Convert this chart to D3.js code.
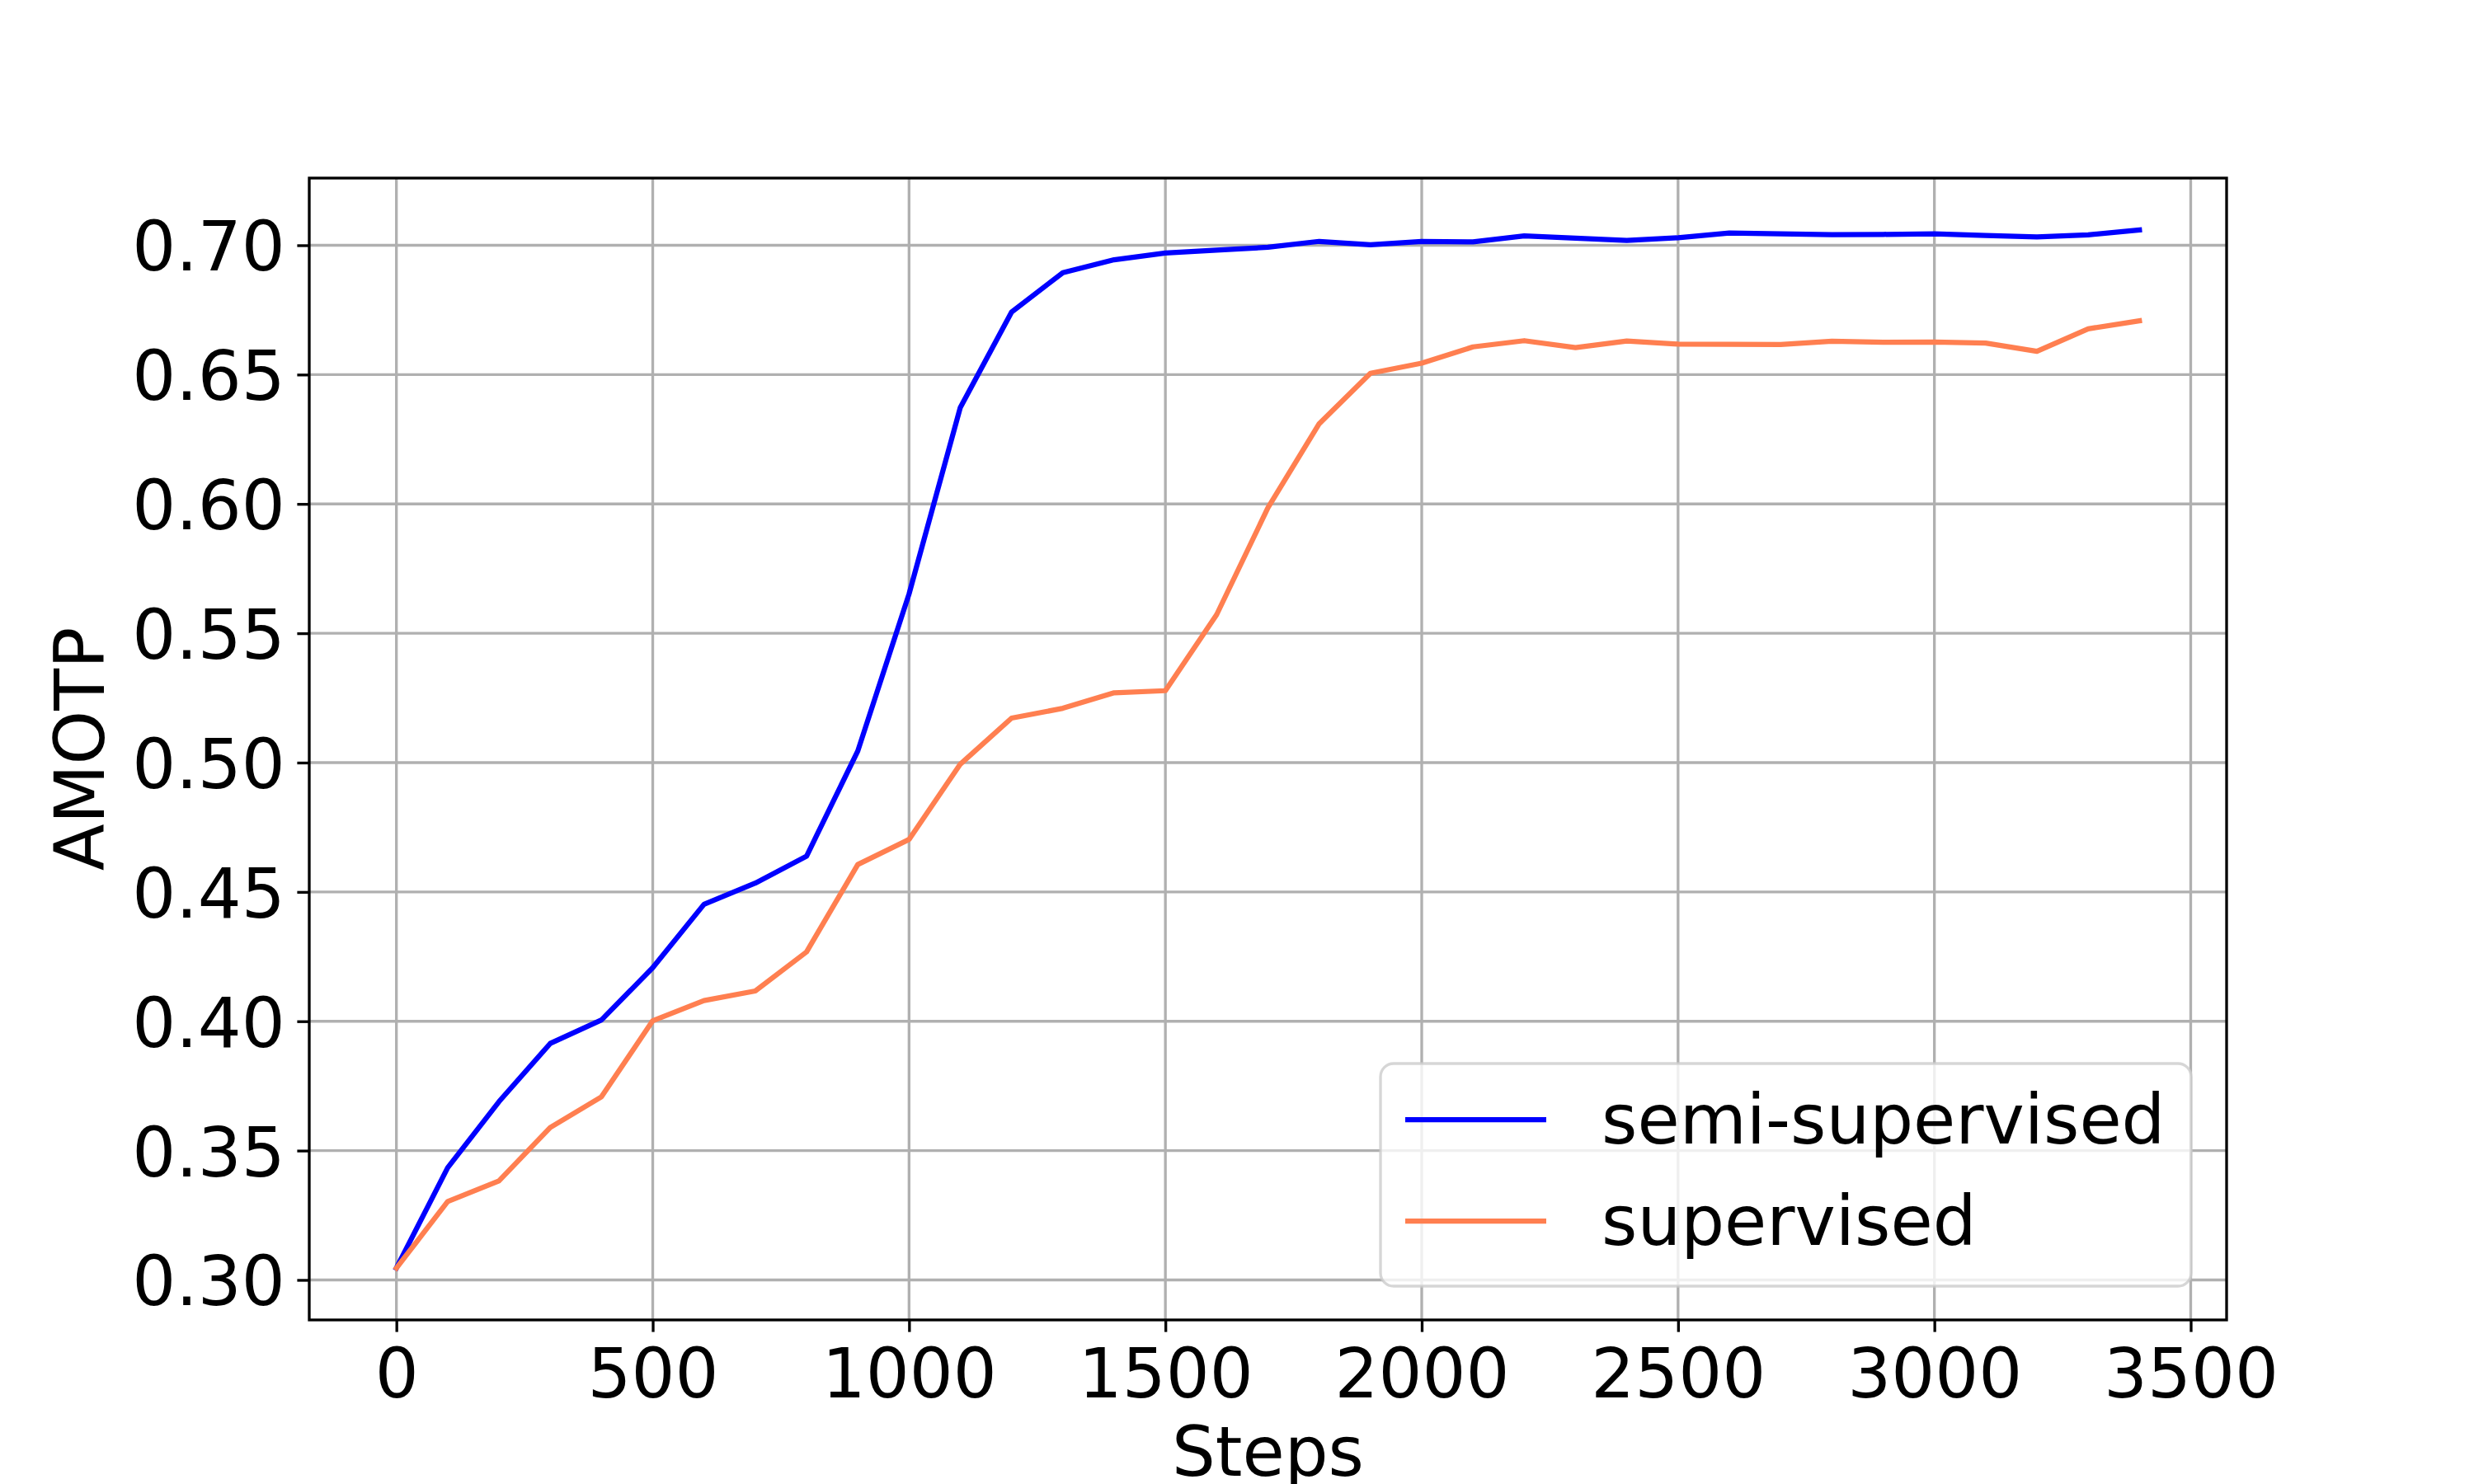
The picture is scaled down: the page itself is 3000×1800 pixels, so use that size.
<!DOCTYPE html>
<html>
<head>
<meta charset="utf-8">
<script src="https://cdn.jsdelivr.net/npm/d3@7"></script>
<style>
  html, body { margin: 0; padding: 0; background: #ffffff; }
  svg { display: block; font-family: "DejaVu Sans", sans-serif; }
</style>
</head>
<body>
<svg id="chart" width="3000" height="1800"></svg>
<script>
// ---- data ----
const steps = [0, 100, 200, 300, 400, 500, 600, 700, 800, 900, 1000, 1100, 1200, 1300, 1400, 1500, 1600,
  1700, 1800, 1900, 2000, 2100, 2200, 2300, 2400, 2500, 2600, 2700, 2800, 2900, 3000, 3100, 3200, 3300, 3400];
const semiSupervised = [0.3046, 0.3434, 0.3689, 0.3914, 0.4005, 0.4207, 0.4452, 0.4534, 0.4638, 0.5045,
  0.5652, 0.6373, 0.6742, 0.6894, 0.6944, 0.6970, 0.6981, 0.6992, 0.7015, 0.7002, 0.7015, 0.7013, 0.7036,
  0.7027, 0.7019, 0.7029, 0.7047, 0.7044, 0.7041, 0.7042, 0.7044, 0.7038, 0.7032, 0.7040, 0.7059];
const supervised = [0.3046, 0.3303, 0.3383, 0.3589, 0.3708, 0.4002, 0.4080, 0.4117, 0.4268, 0.4606,
  0.4703, 0.4994, 0.5172, 0.5210, 0.5270, 0.5278, 0.5572, 0.5985, 0.6310, 0.6505, 0.6544, 0.6607, 0.6631,
  0.6604, 0.6630, 0.6618, 0.6617, 0.6616, 0.6629, 0.6625, 0.6626, 0.6622, 0.6590, 0.6677, 0.6708];
const seriesNames = ["semi-supervised", "supervised"];
const xTicks = [0, 500, 1000, 1500, 2000, 2500, 3000, 3500];
const yTicks = [0.30, 0.35, 0.40, 0.45, 0.50, 0.55, 0.60, 0.65, 0.70];
const xLabel = "Steps";
const yLabel = "AMOTP";

(function () {
// ---- layout ----
const W = 3000, H = 1800;
const pL = 375, pR = 2700, pT = 216, pB = 1601;
const fontSize = 83.3;
const colors = ["#0000ff", "#ff7f50"];

const svg = d3.select("#chart");
svg.append("rect").attr("width", W).attr("height", H).attr("fill", "#ffffff");

const allVals = semiSupervised.concat(supervised);
const xMin = d3.min(steps), xMax = d3.max(steps);
const yMin = d3.min(allVals), yMax = d3.max(allVals);
const xm = (xMax - xMin) * 0.05, ym = (yMax - yMin) * 0.05;

const x = d3.scaleLinear().domain([xMin - xm, xMax + xm]).range([pL, pR]);
const y = d3.scaleLinear().domain([yMin - ym, yMax + ym]).range([pB, pT]);

// grid
const grid = svg.append("g");
grid.selectAll("line.gx").data(xTicks.filter(t => x(t) <= pR)).enter().append("line")
  .attr("x1", d => x(d)).attr("x2", d => x(d)).attr("y1", pT).attr("y2", pB)
  .attr("stroke", "#b0b0b0").attr("stroke-width", 3.33);
grid.selectAll("line.gy").data(yTicks).enter().append("line")
  .attr("x1", pL).attr("x2", pR).attr("y1", d => y(d)).attr("y2", d => y(d))
  .attr("stroke", "#b0b0b0").attr("stroke-width", 3.33);

// lines
const series = [semiSupervised, supervised];
const line = d3.line().x((d, i) => x(steps[i])).y(d => y(d));
series.forEach((s, k) => {
  svg.append("path").datum(s).attr("d", line)
    .attr("fill", "none").attr("stroke", colors[k]).attr("stroke-width", 6.25)
    .attr("stroke-linejoin", "round").attr("stroke-linecap", "square");
});

// axes
const xAxis = d3.axisBottom(x).tickValues(xTicks).tickFormat(d3.format("d"))
  .tickSize(14.6).tickPadding(14.6).tickSizeOuter(0);
const gx = svg.append("g").attr("transform", `translate(0,${pB})`).call(xAxis);
gx.select(".domain").remove();
gx.selectAll(".tick line").attr("stroke", "#000").attr("stroke-width", 3.33);
gx.selectAll(".tick text").attr("font-size", fontSize).attr("fill", "#000")
  .attr("font-family", "DejaVu Sans").attr("dy", null).attr("y", 94);

const yAxis = d3.axisLeft(y).tickValues(yTicks).tickFormat(d3.format(".2f"))
  .tickSize(14.6).tickPadding(14.6).tickSizeOuter(0);
const gy = svg.append("g").attr("transform", `translate(${pL},0)`).call(yAxis);
gy.select(".domain").remove();
gy.selectAll(".tick line").attr("stroke", "#000").attr("stroke-width", 3.33);
gy.selectAll(".tick text").attr("font-size", fontSize).attr("fill", "#000")
  .attr("font-family", "DejaVu Sans").attr("dy", "0.365em").attr("x", -29.2);

// frame
svg.append("rect").attr("x", pL).attr("y", pT).attr("width", pR - pL).attr("height", pB - pT)
  .attr("fill", "none").attr("stroke", "#000").attr("stroke-width", 3.33);

// axis labels
svg.append("text").attr("x", (pL + pR) / 2).attr("y", 1790).attr("text-anchor", "middle")
  .attr("font-size", fontSize).attr("fill", "#000").text(xLabel);
svg.append("text").attr("transform", `translate(126,${(pT + pB) / 2}) rotate(-90)`)
  .attr("text-anchor", "middle").attr("font-size", fontSize).attr("fill", "#000").text(yLabel);

// legend
const lg = svg.append("g");
lg.append("rect").attr("x", 1674).attr("y", 1290).attr("width", 983).attr("height", 270)
  .attr("rx", 16).attr("ry", 16)
  .attr("fill", "#ffffff").attr("fill-opacity", 0.8)
  .attr("stroke", "#cccccc").attr("stroke-opacity", 0.8).attr("stroke-width", 3.33);
const rowY = [1358, 1481];
seriesNames.forEach((name, k) => {
  lg.append("line").attr("x1", 1704).attr("x2", 1875).attr("y1", rowY[k]).attr("y2", rowY[k])
    .attr("stroke", colors[k]).attr("stroke-width", 6.25);
  lg.append("text").attr("x", 1942).attr("y", rowY[k] + 29).attr("font-size", fontSize)
    .attr("fill", "#000").text(name);
});
})();
</script>
</body>
</html>
